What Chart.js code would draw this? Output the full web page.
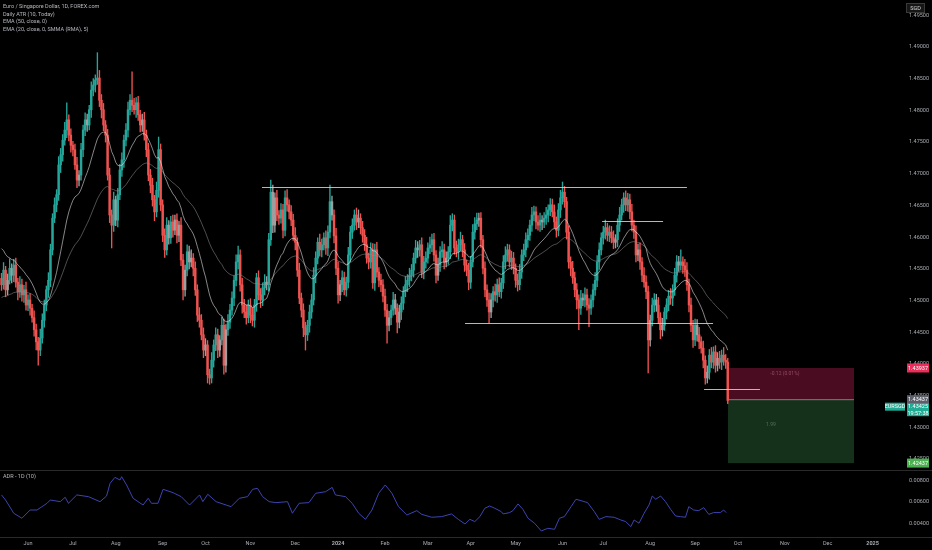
<!DOCTYPE html>
<html>
<head>
<meta charset="utf-8">
<script src="https://cdn.jsdelivr.net/npm/chart.js@4.4.1/dist/chart.umd.min.js"></script>
<style>
  html, body { margin: 0; padding: 0; background: #000; overflow: hidden; }
  #wrap { width: 932px; height: 550px; }
</style>
</head>
<body>
<div id="wrap"><canvas id="chart" width="932" height="550"></canvas></div>
<script>
// ---- data ----
const startDate = [2023, 4, 15]; // first daily bar (Mon 15 May 2023)
const firstOpen = 1.4535;
const closes = [
  1.4525, 1.4548, 1.4517, 1.4532, 1.4551, 1.4540, 1.4556, 1.4529, 1.4514, 1.4525,
  1.4509, 1.4517, 1.4493, 1.4501, 1.4488, 1.4473, 1.4454, 1.4435, 1.4422, 1.4441,
  1.4469, 1.4493, 1.4517, 1.4532, 1.4580, 1.4630, 1.4651, 1.4667, 1.4714, 1.4730,
  1.4753, 1.4769, 1.4785, 1.4761, 1.4745, 1.4738, 1.4714, 1.4690, 1.4698, 1.4738,
  1.4769, 1.4785, 1.4777, 1.4801, 1.4832, 1.4840, 1.4848, 1.4851, 1.4816, 1.4801,
  1.4777, 1.4761, 1.4698, 1.4635, 1.4619, 1.4659, 1.4627, 1.4667, 1.4706, 1.4722,
  1.4753, 1.4769, 1.4801, 1.4816, 1.4808, 1.4801, 1.4812, 1.4793, 1.4777, 1.4785,
  1.4761, 1.4738, 1.4698, 1.4682, 1.4659, 1.4640, 1.4674, 1.4738, 1.4651, 1.4603,
  1.4580, 1.4619, 1.4599, 1.4624, 1.4611, 1.4627, 1.4603, 1.4619, 1.4564, 1.4517,
  1.4548, 1.4577, 1.4561, 1.4567, 1.4551, 1.4517, 1.4477, 1.4469, 1.4446, 1.4422,
  1.4430, 1.4383, 1.4378, 1.4406, 1.4430, 1.4446, 1.4422, 1.4438, 1.4461, 1.4398,
  1.4454, 1.4466, 1.4485, 1.4504, 1.4532, 1.4561, 1.4572, 1.4525, 1.4493, 1.4482,
  1.4473, 1.4493, 1.4477, 1.4469, 1.4493, 1.4536, 1.4509, 1.4501, 1.4520, 1.4529,
  1.4525, 1.4596, 1.4671, 1.4619, 1.4662, 1.4635, 1.4630, 1.4643, 1.4611, 1.4662,
  1.4651, 1.4640, 1.4627, 1.4603, 1.4592, 1.4548, 1.4504, 1.4485, 1.4457, 1.4446,
  1.4461, 1.4482, 1.4501, 1.4540, 1.4567, 1.4592, 1.4580, 1.4588, 1.4599, 1.4583,
  1.4608, 1.4656, 1.4635, 1.4602, 1.4551, 1.4509, 1.4525, 1.4536, 1.4517, 1.4529,
  1.4572, 1.4608, 1.4619, 1.4635, 1.4624, 1.4630, 1.4615, 1.4603, 1.4588, 1.4567,
  1.4561, 1.4580, 1.4528, 1.4580, 1.4545, 1.4532, 1.4525, 1.4507, 1.4485, 1.4461,
  1.4473, 1.4485, 1.4501, 1.4488, 1.4466, 1.4482, 1.4496, 1.4514, 1.4525, 1.4532,
  1.4540, 1.4548, 1.4567, 1.4583, 1.4580, 1.4588, 1.4545, 1.4561, 1.4567, 1.4583,
  1.4588, 1.4596, 1.4572, 1.4540, 1.4556, 1.4577, 1.4580, 1.4561, 1.4567, 1.4577,
  1.4619, 1.4627, 1.4583, 1.4577, 1.4588, 1.4596, 1.4580, 1.4556, 1.4548, 1.4529,
  1.4561, 1.4608, 1.4621, 1.4627, 1.4630, 1.4596, 1.4551, 1.4517, 1.4501, 1.4482,
  1.4501, 1.4514, 1.4509, 1.4525, 1.4514, 1.4528, 1.4561, 1.4572, 1.4580, 1.4561,
  1.4567, 1.4551, 1.4532, 1.4525, 1.4545, 1.4572, 1.4580, 1.4596, 1.4603, 1.4619,
  1.4635, 1.4640, 1.4624, 1.4619, 1.4627, 1.4624, 1.4630, 1.4635, 1.4643, 1.4651,
  1.4640, 1.4624, 1.4611, 1.4643, 1.4662, 1.4671, 1.4656, 1.4608, 1.4561, 1.4551,
  1.4536, 1.4517, 1.4501, 1.4488, 1.4504, 1.4501, 1.4509, 1.4493, 1.4488, 1.4501,
  1.4517, 1.4532, 1.4561, 1.4580, 1.4599, 1.4608, 1.4615, 1.4603, 1.4608, 1.4599,
  1.4592, 1.4596, 1.4619, 1.4635, 1.4651, 1.4662, 1.4651, 1.4659, 1.4640, 1.4619,
  1.4608, 1.4572, 1.4580, 1.4561, 1.4540, 1.4529, 1.4514, 1.4438, 1.4469, 1.4493,
  1.4501, 1.4493, 1.4473, 1.4454, 1.4461, 1.4482, 1.4493, 1.4507, 1.4504, 1.4517,
  1.4540, 1.4561, 1.4556, 1.4561, 1.4555, 1.4548, 1.4525, 1.4493, 1.4461, 1.4438,
  1.4461, 1.4446, 1.4435, 1.4425, 1.4406, 1.4378, 1.4387, 1.4414, 1.4403, 1.4419,
  1.4398, 1.4409, 1.4403, 1.4414, 1.4406, 1.4403, 1.43425
];
// wick lengths beyond the body, in pips (0.0001)
const upWick = [
  8, 12, 6, 10, 15, 7, 9, 11, 6, 13,   9, 7, 12, 8, 10, 6, 11, 9, 7, 14,
  10, 8, 6, 12, 9, 7, 11, 8, 13, 10,   9, 12, 27, 8, 10, 6, 9, 12, 7, 10,
  8, 11, 9, 7, 13, 10, 8, 40, 12, 9,   10, 7, 9, 11, 8, 12, 6, 10, 9, 11,
  8, 10, 12, 9, 45, 11, 8, 10, 7, 9,   12, 8, 10, 9, 11, 7, 13, 20, 9, 8,
  10, 12, 7, 9, 11, 8, 10, 6, 12, 9,   8, 11, 9, 13, 7, 10, 8, 12, 9, 11,
  10, 7, 9, 12, 8, 11, 9, 7, 13, 10,   8, 12, 9, 10, 7, 11, 14, 8, 10, 9,
  11, 8, 10, 12, 9, 7, 11, 10, 8, 12,  9, 10, 19, 11, 8, 12, 7, 10, 9, 11,
  13, 8, 10, 9, 12, 7, 11, 8, 10, 9,   8, 11, 9, 12, 10, 7, 13, 9, 8, 11,
  10, 26, 9, 8, 12, 10, 7, 11, 9, 8,   12, 9, 10, 8, 11, 13, 7, 10, 9, 12,
  8, 11, 10, 9, 12, 7, 10, 8, 11, 9,   10, 8, 12, 9, 7, 11, 10, 8, 13, 9,
  11, 9, 8, 12, 10, 7, 11, 9, 10, 8,   12, 9, 10, 7, 11, 8, 13, 9, 10, 8,
  15, 10, 8, 11, 9, 12, 7, 10, 8, 11,  9, 12, 10, 11, 8, 9, 7, 10, 8, 11,
  10, 8, 12, 9, 11, 7, 10, 13, 9, 8,   11, 9, 7, 10, 12, 8, 9, 11, 10, 8,
  12, 9, 8, 10, 11, 7, 9, 12, 8, 10,   9, 11, 8, 10, 12, 16, 9, 7, 10, 8,
  11, 9, 10, 8, 12, 7, 11, 9, 10, 8,   9, 12, 10, 11, 8, 9, 12, 7, 10, 9,
  11, 8, 10, 12, 9, 8, 11, 10, 9, 12,  8, 10, 9, 11, 7, 12, 10, 9, 8, 11,
  10, 9, 12, 8, 11, 7, 10, 9, 12, 8,   11, 10, 9, 19, 8, 10, 12, 9, 11, 8,
  10, 9, 12, 8, 11, 7, 10, 9, 12, 8,   10, 9, 11, 8, 12, 9, 6
];
const downWick = [
  9, 7, 11, 8, 6, 12, 10, 8, 13, 9,    10, 12, 8, 9, 11, 7, 10, 13, 24, 9,
  8, 11, 9, 12, 10, 8, 7, 11, 9, 12,   10, 8, 12, 9, 11, 10, 7, 12, 9, 8,
  11, 9, 10, 8, 12, 9, 11, 7, 10, 13,  9, 11, 8, 12, 36, 10, 9, 11, 8, 10,
  12, 9, 11, 8, 10, 7, 12, 9, 11, 10,  8, 11, 9, 12, 10, 14, 8, 11, 9, 10,
  12, 8, 10, 9, 11, 7, 12, 10, 9, 16,  10, 9, 11, 8, 12, 9, 10, 11, 8, 12,
  9, 13, 10, 8, 11, 9, 12, 10, 8, 14,  11, 9, 10, 8, 12, 9, 11, 10, 13, 9,
  10, 8, 12, 9, 11, 10, 8, 12, 9, 11,  8, 10, 9, 12, 11, 9, 10, 8, 12, 9,
  10, 11, 9, 8, 12, 10, 9, 11, 14, 24, 9, 11, 10, 8, 12, 9, 10, 11, 8, 10,
  12, 9, 8, 11, 10, 13, 9, 11, 8, 10,  9, 11, 10, 8, 12, 9, 10, 11, 9, 8,
  11, 10, 9, 12, 8, 10, 11, 9, 10, 28, 9, 11, 8, 10, 17, 9, 12, 10, 8, 11,
  10, 9, 11, 8, 12, 10, 9, 11, 10, 8,  9, 11, 10, 12, 8, 10, 9, 11, 8, 10,
  11, 9, 10, 8, 12, 9, 11, 10, 9, 12,  10, 8, 11, 9, 10, 12, 9, 11, 10, 17,
  9, 11, 10, 12, 8, 10, 9, 11, 10, 8,  12, 9, 11, 10, 8, 10, 9, 11, 12, 8,
  10, 9, 11, 8, 10, 12, 9, 10, 11, 9,  8, 10, 11, 9, 12, 10, 9, 11, 10, 12,
  9, 11, 14, 34, 10, 9, 11, 8, 29, 10, 11, 9, 10, 12, 8, 10, 11, 9, 10, 8,
  10, 9, 11, 10, 8, 12, 9, 10, 11, 9,  10, 11, 9, 12, 10, 8, 11, 52, 10, 9,
  11, 10, 9, 14, 10, 8, 11, 9, 10, 12, 9, 11, 10, 8, 12, 10, 9, 11, 10, 12,
  9, 10, 11, 8, 12, 10, 8, 11, 9, 10,  11, 9, 10, 12, 8, 10, 5
];
const ema20Seed = 1.4588;
const ema50Seed = 1.4504;

// ADR (10) line, sampled points: bar index / value
const adrIdx = [0, 2, 6, 10, 14, 17.4, 22.3, 23.9, 28.8, 31.2, 32.8, 36.9, 42.6, 48.3, 51.5, 53.2, 55.6, 58.1, 58.9, 61.3,
  64.5, 69.4, 71.9, 73.5, 76.7, 79.2, 84.1, 88.1, 92.2, 97.1, 98.7, 101.1, 105.2, 110.1, 112.5, 116.6, 120.6, 123.1, 125.5, 128,
  131.2, 134.5, 140.2, 142.6, 145.9, 150.7, 154, 158.9, 162.1, 163.7, 168.6, 171.9, 175.1, 178.4, 181.6, 184.9, 188.1, 191.4, 194.6, 198.7,
  203.6, 206, 210.9, 215.8, 220.6, 223.9, 227.2, 229.6, 232, 234.5, 236.9, 239.3, 241.8, 245, 245.9, 249.1, 250.7, 253.2, 255.6, 258.1,
  261.3, 264.6, 267.8, 271.1, 273.5, 275.9, 279.2, 281.6, 284.1, 287.3, 290.6, 293, 296.3, 300.3, 303.6, 306, 308.5, 310.1, 312.5, 315,
  317.4, 319, 320.7, 323.1, 325.5, 328, 330.4, 332.8, 335.3, 336.9, 339.3, 341.8, 344.2, 346.7, 349.1, 352.4, 354, 355.2];
const adrVal = [0.00665, 0.00618, 0.00496, 0.00450, 0.00526, 0.00526, 0.00588, 0.00618, 0.00603, 0.00643, 0.00588, 0.00665, 0.00649, 0.00603, 0.00655, 0.00772, 0.00827, 0.00803, 0.00833, 0.00757,
  0.00634, 0.00572, 0.00634, 0.00588, 0.00588, 0.00717, 0.00686, 0.00649, 0.00572, 0.00665, 0.00603, 0.00671, 0.00603, 0.00572, 0.00557, 0.00634, 0.00649, 0.00717, 0.00726, 0.00649,
  0.00603, 0.00594, 0.00603, 0.00496, 0.00588, 0.00594, 0.00680, 0.00695, 0.00735, 0.00665, 0.00649, 0.00588, 0.00496, 0.00440, 0.00526, 0.00680, 0.00757, 0.00680, 0.00557, 0.00480,
  0.00520, 0.00486, 0.00459, 0.00465, 0.00490, 0.00440, 0.00397, 0.00440, 0.00419, 0.00465, 0.00542, 0.00563, 0.00542, 0.00511, 0.00490, 0.00502, 0.00520, 0.00582, 0.00532, 0.00450,
  0.00404, 0.00333, 0.00357, 0.00348, 0.00450, 0.00465, 0.00557, 0.00625, 0.00612, 0.00594, 0.00511, 0.00440, 0.00465, 0.00459, 0.00434, 0.00419, 0.00373, 0.00434, 0.00404, 0.00496,
  0.00572, 0.00655, 0.00625, 0.00655, 0.00603, 0.00532, 0.00471, 0.00465, 0.00459, 0.00557, 0.00526, 0.00520, 0.00548, 0.00486, 0.00502, 0.00502, 0.00526, 0.00502];

const priceTicks = [1.425, 1.43, 1.435, 1.44, 1.445, 1.45, 1.455, 1.46, 1.465, 1.47, 1.475, 1.48, 1.485, 1.49, 1.495];
const adrTicks = [0.004, 0.006, 0.008];
const monthNames = ['Jan', 'Feb', 'Mar', 'Apr', 'May', 'Jun', 'Jul', 'Aug', 'Sep', 'Oct', 'Nov', 'Dec'];

// drawings on the chart: [price, from bar, to bar]
const levels = [
  [1.4679, 127.7, 336.0],
  [1.44647, 227.2, 348.8],
  [1.4626, 294.4, 324.3],
  [1.4360, 344.4, 371.8]
];
const position = { from: 356.1, to: 417.9, entry: 1.43437, stop: 1.43937, target: 1.42437 };
const lastPrice = 1.43425;

// ---- build series ----
const dates = [];
let day = new Date(Date.UTC(startDate[0], startDate[1], startDate[2]));
while (dates.length < 445) {
  const wd = day.getUTCDay();
  if (wd !== 0 && wd !== 6) dates.push(new Date(day));
  day.setUTCDate(day.getUTCDate() + 1);
}
const monthTicks = [];
const tickText = {};
for (let i = 1; i < dates.length; i++) {
  if (dates[i].getUTCMonth() !== dates[i - 1].getUTCMonth()) {
    const m = dates[i].getUTCMonth();
    monthTicks.push(i);
    tickText[i] = m === 0 ? String(dates[i].getUTCFullYear()) : monthNames[m];
  }
}

const opens = closes.map((c, i) => i === 0 ? firstOpen : closes[i - 1]);
const highs = closes.map((c, i) => Math.max(opens[i], c) + upWick[i] * 0.0001);
const lows = closes.map((c, i) => Math.min(opens[i], c) - downWick[i] * 0.0001);

const UP = '#26a69a', DOWN = '#ef5350', FLAT = '#9e9e9e';
const candleColors = closes.map((c, i) => {
  if (i > 0 && highs[i] <= highs[i - 1] && lows[i] >= lows[i - 1]) return FLAT;
  return c >= opens[i] ? UP : DOWN;
});

function ema(seed, len) {
  const k = 2 / (len + 1);
  const out = [];
  let v = seed;
  closes.forEach((c, i) => {
    v = v + k * (c - v);
    out.push({ x: i, y: v });
  });
  return out;
}

const bodyData = closes.map((c, i) => ({ x: i, y: [opens[i], c] }));
const wickData = closes.map((c, i) => ({ x: i, y: [lows[i], highs[i]] }));
const adrData = adrIdx.map((x, i) => ({ x: x, y: adrVal[i] }));

// ---- drawing helpers ----
const FONT = 'Roboto, "DejaVu Sans", sans-serif';
Chart.defaults.font.family = FONT;

function tag(ctx, x, y, w, h, bg, lines) {
  ctx.fillStyle = bg;
  ctx.fillRect(x, y, w, h);
  ctx.fillStyle = '#ffffff';
  ctx.font = '5.5px ' + FONT;
  ctx.textAlign = 'center';
  ctx.textBaseline = 'middle';
  const lh = h / lines.length;
  lines.forEach((t, i) => ctx.fillText(t, x + w / 2, y + lh * i + lh / 2 + 0.3));
}

const overlay = {
  id: 'overlay',
  beforeDraw(chart) {
    const ctx = chart.ctx;
    ctx.save();
    ctx.fillStyle = '#000000';
    ctx.fillRect(0, 0, chart.width, chart.height);
    ctx.restore();
  },
  beforeDatasetsDraw(chart) {
    const { ctx, scales: { x, y } } = chart;
    const x0 = x.getPixelForValue(position.from), x1 = x.getPixelForValue(position.to);
    const yE = y.getPixelForValue(position.entry);
    const yS = y.getPixelForValue(position.stop);
    const yT = y.getPixelForValue(position.target);
    ctx.save();
    ctx.fillStyle = '#4a0c21';
    ctx.fillRect(x0, yS, x1 - x0, yE - yS);
    ctx.fillStyle = '#15301b';
    ctx.fillRect(x0, yE, x1 - x0, yT - yE);
    ctx.strokeStyle = 'rgba(150,150,150,0.8)';
    ctx.lineWidth = 1;
    ctx.beginPath();
    ctx.moveTo(x0, yE);
    ctx.lineTo(x1, yE);
    ctx.stroke();
    ctx.font = '5px ' + FONT;
    ctx.textAlign = 'center';
    ctx.textBaseline = 'middle';
    ctx.fillStyle = 'rgba(230,150,170,0.45)';
    ctx.fillText('-0.12 (0.01%)', (x0 + x1) / 2 - 6, yS + 6);
    ctx.fillStyle = 'rgba(170,210,170,0.4)';
    ctx.fillText('1.99', (x0 + x1) / 2 - 20, yE + 25);
    ctx.restore();
  },
  afterDatasetsDraw(chart) {
    const { ctx, scales: { x, y } } = chart;
    ctx.save();
    ctx.strokeStyle = 'rgba(215,215,215,0.85)';
    ctx.lineWidth = 1;
    levels.forEach(([p, a, b]) => {
      const py = Math.round(y.getPixelForValue(p)) + 0.5;
      ctx.beginPath();
      ctx.moveTo(x.getPixelForValue(a), py);
      ctx.lineTo(x.getPixelForValue(b), py);
      ctx.stroke();
    });
    ctx.restore();
  },
  afterDraw(chart) {
    const { ctx, chartArea, scales: { y } } = chart;
    ctx.save();
    // pane separators
    ctx.strokeStyle = '#2a2a2a';
    ctx.lineWidth = 1;
    const sep = chart.scales.y.bottom;
    ctx.beginPath();
    ctx.moveTo(0, Math.round(sep) + 0.5);
    ctx.lineTo(chart.width, Math.round(sep) + 0.5);
    ctx.moveTo(0, Math.round(chartArea.bottom) + 0.5);
    ctx.lineTo(chart.width, Math.round(chartArea.bottom) + 0.5);
    ctx.stroke();

    // legend texts
    ctx.font = '5.5px ' + FONT;
    ctx.textAlign = 'left';
    ctx.textBaseline = 'middle';
    ctx.fillStyle = 'rgba(210,212,220,0.85)';
    ['Euro / Singapore Dollar, 1D, FOREX.com', 'Daily ATR (10, Today)', 'EMA (50, close, 0)',
      'EMA (20, close, 0, SMMA (RMA), 5)'].forEach((t, i) => ctx.fillText(t, 3, 7 + i * 7.5));
    ctx.fillText('ADR - 1D (10)', 3, Math.round(sep) + 7);

    // currency box
    ctx.fillStyle = '#161616';
    ctx.fillRect(906, 3, 19, 10);
    ctx.strokeStyle = '#3a3a3a';
    ctx.strokeRect(906.5, 3.5, 18, 9);
    ctx.fillStyle = '#d8d8d8';
    ctx.textAlign = 'center';
    ctx.fillText('SGD', 915.5, 8.3);

    // price tags on the scale
    const ax = chartArea.right + 2;
    const yS = y.getPixelForValue(position.stop);
    const yE = y.getPixelForValue(position.entry);
    const yT = y.getPixelForValue(position.target);
    tag(ctx, ax, yS - 4.5, 22, 9, '#ec2c5a', ['1.43937']);
    tag(ctx, ax, yE - 4.5, 22, 9, '#5d606b', [position.entry.toFixed(5)]);
    tag(ctx, ax, yE + 3.5, 22, 13, '#22ab94', [lastPrice.toFixed(5), '19:57:38']);
    tag(ctx, chartArea.right - 20, yE + 3, 20, 8, '#22ab94', ['EURSGD']);
    tag(ctx, ax, yT - 4.5, 22, 9, '#4caf50', [position.target.toFixed(5)]);
    ctx.restore();
  }
};

new Chart(document.getElementById('chart'), {
  type: 'bar',
  data: {
    datasets: [
      { type: 'line', data: ema(ema20Seed, 20), borderColor: 'rgba(225,225,225,0.75)', borderWidth: 0.8,
        pointRadius: 0, tension: 0, yAxisID: 'y', order: 0 },
      { type: 'line', data: ema(ema50Seed, 50), borderColor: 'rgba(140,140,140,0.7)', borderWidth: 0.8,
        pointRadius: 0, tension: 0, yAxisID: 'y', order: 0 },
      { type: 'line', data: adrData, borderColor: '#3d44b0', borderWidth: 1,
        pointRadius: 0, tension: 0, yAxisID: 'y2', order: 0 },
      { data: bodyData, backgroundColor: candleColors, borderWidth: 0, barThickness: 1.8,
        minBarLength: 0.8, grouped: false, yAxisID: 'y', order: 1 },
      { data: wickData, backgroundColor: candleColors, borderWidth: 0, barThickness: 0.7,
        grouped: false, yAxisID: 'y', order: 2 }
    ]
  },
  options: {
    responsive: false,
    animation: false,
    layout: { padding: 0 },
    plugins: { legend: { display: false }, tooltip: { enabled: false } },
    scales: {
      x: {
        type: 'linear',
        min: -0.74,
        max: 442.9,
        offset: false,
        grid: { display: false, drawTicks: false },
        border: { display: false },
        afterBuildTicks: axis => { axis.ticks = monthTicks.filter(v => v < 442).map(v => ({ value: v })); },
        afterFit: axis => { axis.height = 13; axis.paddingLeft = 0; axis.paddingRight = 0; },
        ticks: {
          autoSkip: false,
          maxRotation: 0,
          padding: 3,
          color: '#a9abb3',
          font: ctx => ({ size: 5.5, weight: (ctx.tick && tickText[ctx.tick.value] && /^\d/.test(tickText[ctx.tick.value])) ? 'bold' : 'normal' }),
          callback: v => tickText[v] || ''
        }
      },
      y: {
        type: 'linear',
        position: 'right',
        stack: 'panes',
        stackWeight: 470,
        min: 1.42328,
        max: 1.49741,
        grid: { display: false, drawTicks: false },
        border: { display: false },
        afterBuildTicks: axis => { axis.ticks = priceTicks.map(v => ({ value: v })); },
        afterFit: axis => { axis.width = 27; axis.paddingTop = 0; axis.paddingBottom = 0; },
        ticks: { padding: 4, color: '#a9abb3', font: { size: 5.5 }, callback: v => v.toFixed(5) }
      },
      y2: {
        type: 'linear',
        position: 'right',
        stack: 'panes',
        stackWeight: 67,
        min: 0.00277,
        max: 0.00895,
        grid: { display: false, drawTicks: false },
        border: { display: false },
        afterBuildTicks: axis => { axis.ticks = adrTicks.map(v => ({ value: v })); },
        afterFit: axis => { axis.width = 27; axis.paddingTop = 0; axis.paddingBottom = 0; },
        ticks: { padding: 4, color: '#a9abb3', font: { size: 5.5 }, callback: v => v.toFixed(5) }
      }
    }
  },
  plugins: [overlay]
});
</script>
</body>
</html>
